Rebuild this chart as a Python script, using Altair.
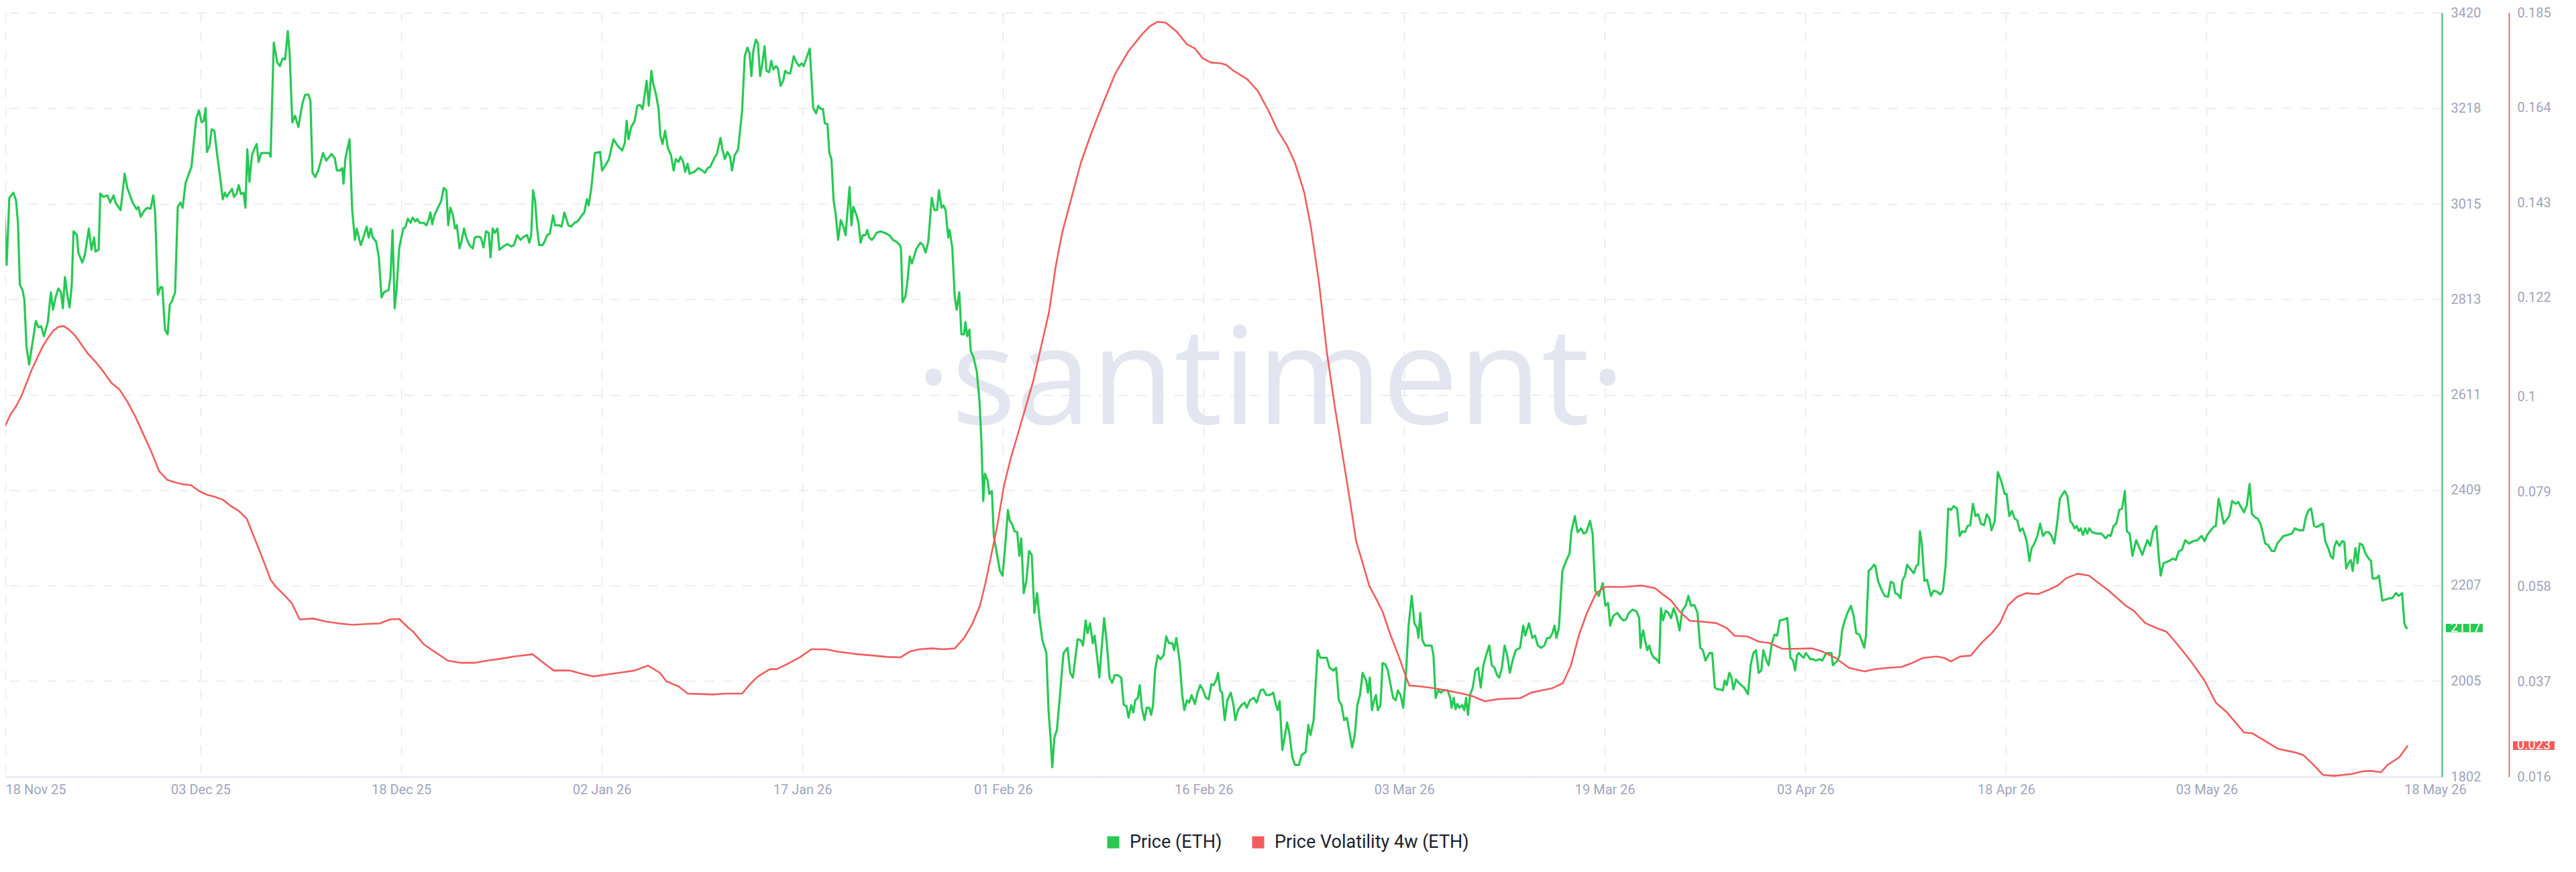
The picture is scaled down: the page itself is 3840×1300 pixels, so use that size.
import json
import altair as alt
import pandas as pd

FONT = "Roboto"

# ---------------- data ----------------
# x values are days after 2025-11-18 12:00 UTC
START = "2025-11-18T12:00:00Z"

price_points = [
    (0.00,3081),(0.20,3079),(0.50,2886),(0.70,3028),(1.00,3039),(1.20,3023),(1.35,2975),(1.49,2844),(1.69,2833),(1.83,2812),
    (1.99,2712),(2.19,2675),(2.39,2712),(2.69,2767),(2.89,2754),(3.09,2756),(3.29,2735),(3.59,2765),(3.82,2828),(3.98,2791),
    (4.18,2818),(4.38,2836),(4.58,2828),(4.72,2794),(4.88,2860),(5.08,2818),(5.22,2796),(5.38,2839),(5.52,2957),(5.78,2949),
    (5.88,2912),(6.18,2891),(6.37,2907),(6.67,2963),(6.87,2918),(7.07,2944),(7.17,2914),(7.41,2918),(7.53,3037),(7.77,3030),
    (8.07,3033),(8.27,3018),(8.53,3033),(8.67,3018),(9.06,3002),(9.36,3079),(9.56,3049),(9.96,3018),(10.26,3004),(10.40,3009),
    (10.56,2988),(10.86,3002),(11.06,3007),(11.31,3005),(11.51,3033),(11.65,2997),(11.85,2823),(12.05,2839),(12.19,2839),(12.39,2749),
    (12.59,2739),(12.75,2802),(12.91,2809),(13.15,2828),(13.35,3009),(13.55,3018),(13.71,3007),(13.94,3060),(14.14,3076),(14.38,3094),
    (14.74,3197),(14.94,3213),(15.14,3188),(15.30,3191),(15.44,3218),(15.54,3125),(15.74,3139),(15.90,3173),(16.10,3170),(16.29,3123),
    (16.49,3081),(16.73,3025),(16.89,3039),(17.03,3030),(17.23,3039),(17.43,3047),(17.57,3030),(17.77,3037),(17.93,3055),(18.09,3036),
    (18.29,3039),(18.43,3007),(18.57,3131),(18.73,3062),(18.92,3118),(19.12,3133),(19.28,3142),(19.42,3104),(19.62,3123),(19.92,3123),
    (20.22,3123),(20.32,3115),(20.56,3357),(20.82,3315),(21.02,3307),(21.22,3323),(21.41,3321),(21.61,3381),(21.75,3334),(21.95,3188),
    (22.15,3202),(22.41,3178),(22.71,3228),(22.91,3246),(23.15,3247),(23.31,3234),(23.47,3081),(23.67,3072),(23.90,3086),(24.26,3123),
    (24.50,3107),(24.90,3121),(25.14,3112),(25.30,3086),(25.54,3086),(25.70,3091),(25.80,3058),(25.94,3112),(26.25,3152),(26.45,3002),
    (26.65,2939),(26.79,2963),(27.09,2928),(27.29,2944),(27.53,2967),(27.69,2944),(27.85,2963),(27.99,2944),(28.25,2935),(28.45,2902),
    (28.65,2817),(28.84,2828),(29.18,2833),(29.32,2860),(29.48,2960),(29.64,2794),(29.78,2833),(29.98,2922),(30.28,2963),
    (30.43,2965),(30.63,2984),(30.83,2975),(30.99,2986),(31.19,2978),(31.33,2983),(31.52,2975),(31.82,2975),(32.02,2970),(32.18,2981),
    (32.32,2997),(32.46,2972),(32.62,2991),(32.92,3009),(33.12,3020),(33.32,3049),(33.52,3044),(33.66,2970),(33.82,3007),(34.02,2991),
    (34.17,2963),(34.31,2970),(34.51,2921),(34.65,2935),(34.85,2963),(35.01,2944),(35.25,2928),(35.51,2921),(35.65,2944),(35.91,2946),
    (36.11,2944),(36.31,2923),(36.50,2957),(36.70,2954),(36.84,2902),(37.00,2963),(37.16,2954),(37.36,2963),(37.50,2918),(37.80,2925),
    (38.10,2930),(38.40,2925),(38.60,2928),(38.84,2949),(39.09,2939),(39.35,2946),(39.59,2949),(39.75,2933),(39.89,2949),(40.03,3044),
    (40.19,3020),(40.33,2965),(40.49,2928),(40.75,2928),(40.89,2935),(41.09,2949),(41.29,2952),(41.54,2991),(41.68,2970),(41.98,2970),
    (42.18,2967),(42.38,2997),(42.68,2970),(42.88,2967),(43.14,2975),(43.38,2978),(43.62,2988),(43.88,2997),(44.07,3025),(44.21,3012),
    (44.41,3049),(44.67,3123),(45.07,3125),(45.21,3086),(45.47,3097),(45.73,3110),(46.07,3152),(46.37,3139),(46.72,3128),(46.92,3144),
    (47.06,3191),(47.20,3152),(47.40,3178),(47.66,3191),(47.86,3223),(48.06,3225),(48.26,3216),(48.56,3276),(48.72,3223),(48.92,3297),
    (49.05,3270),(49.25,3249),(49.45,3218),(49.59,3160),(49.75,3142),(49.95,3170),(50.15,3134),(50.39,3118),(50.59,3086),(50.75,3110),
    (50.95,3104),(51.11,3115),(51.31,3104),(51.45,3083),(51.64,3100),(51.78,3079),(52.14,3083),(52.44,3091),(52.74,3086),(52.94,3081),
    (53.14,3091),(53.34,3094),(53.64,3112),(53.84,3121),(54.10,3155),(54.23,3134),(54.43,3110),(54.63,3125),(54.83,3115),(54.97,3086),
    (55.17,3118),(55.43,3131),(55.73,3212),(55.93,3328),(56.13,3346),(56.29,3334),(56.43,3286),(56.57,3339),(56.76,3363),(56.92,3355),
    (57.08,3286),(57.22,3307),(57.42,3349),(57.56,3297),(57.76,3294),(57.92,3318),(58.08,3300),(58.28,3307),(58.42,3302),(58.62,3265),
    (58.82,3276),(58.96,3297),(59.15,3292),(59.35,3292),(59.61,3328),(59.81,3315),(60.01,3307),(60.21,3313),(60.35,3307),(60.81,3344),
    (61.07,3218),
    (61.29,3207),(61.45,3223),(61.65,3216),(61.80,3216),(61.94,3186),(62.14,3184),(62.28,3123),(62.44,3110),(62.60,3023),(62.74,2997),
    (62.94,2939),(63.14,2981),(63.34,2967),(63.50,2949),(63.64,2997),(63.80,3051),(63.94,2970),(64.08,3009),(64.33,2991),(64.47,2975),
    (64.63,2933),(64.79,2949),(64.99,2949),(65.13,2960),(65.27,2944),(65.47,2939),(65.63,2944),(65.83,2954),(66.13,2957),(66.43,2954),
    (66.78,2949),(67.06,2939),(67.32,2935),(67.58,2928),(67.66,2921),(67.78,2807),(67.98,2818),(68.12,2844),(68.32,2904),(68.48,2889),
    (68.62,2902),(68.82,2920),(69.12,2933),(69.31,2928),(69.51,2912),(69.71,2935),(69.97,3028),(70.17,3002),(70.37,3002),(70.51,3044),
    (70.71,3007),(70.85,3012),(71.01,3002),(71.21,2944),(71.31,2960),(71.51,2923),(71.70,2818),(71.84,2791),(72.04,2828),(72.20,2739),
    (72.40,2739),(72.50,2765),(72.64,2735),(72.80,2749),(72.90,2704),(73.10,2691),(73.36,2659),(73.56,2596),(73.70,2512),(73.84,2386),
    (73.96,2444),(74.16,2430),(74.30,2401),(74.49,2407),(74.63,2312),(74.89,2270),(75.09,2238),(75.29,2228),(75.49,2291),(75.69,2367),
    (75.83,2344),(75.99,2338),(76.19,2322),(76.39,2320),(76.55,2270),(76.69,2307),(76.88,2191),(77.08,2217),(77.28,2280),(77.48,2272),
    (77.68,2149),(77.88,2191),(78.08,2133),(78.28,2091),(78.58,2064),(78.74,1943),(78.88,1890),(79.02,1822),(79.18,1885),(79.37,1901),
    (79.57,1964),(79.77,2033),(79.87,2064),(80.17,2075),(80.37,2022),(80.57,2012),(80.73,2048),(80.93,2093),(81.17,2091),(81.33,2080),
    (81.53,2133),(81.67,2106),(81.86,2127),(82.06,2085),(82.20,2101),(82.40,2054),(82.56,2012),(82.72,2070),(82.92,2138),(83.12,2085),
    (83.32,2012),(83.52,2001),(83.72,2017),(83.96,2017),(84.20,2012),(84.39,1954),(84.59,1952),(84.75,1927),(84.95,1954),(85.11,1938),
    (85.25,1964),(85.45,1969),(85.59,1996),(85.75,1948),(85.95,1922),(86.11,1948),(86.31,1948),(86.45,1933),(86.59,1954),(86.74,2027),
    (86.94,2059),(87.14,2051),(87.38,2059),(87.58,2099),(87.78,2085),(88.04,2085),(88.18,2070),(88.34,2096),(88.58,2048),(88.78,1975),
    (88.94,1943),(89.14,1964),(89.30,1959),(89.49,1975),(89.73,1956),(89.93,1980),(90.13,1996),(90.33,1987),(90.57,1969),(90.77,1966),
    (90.97,1998),(91.13,1996),(91.33,2006),(91.47,2022),(91.63,1985),
    (91.78,1980),(91.97,1922),(92.17,1964),(92.43,1980),(92.63,1954),(92.77,1922),(92.97,1943),(93.23,1954),(93.47,1959),(93.63,1948),
    (93.87,1964),(94.17,1969),(94.37,1959),(94.66,1985),(94.86,1987),(95.10,1975),(95.36,1975),(95.62,1980),(95.82,1954),(95.96,1943),
    (96.10,1962),(96.30,1859),(96.50,1890),(96.66,1917),(96.82,1896),(97.05,1843),(97.25,1827),(97.55,1827),(97.75,1848),(98.05,1854),
    (98.25,1912),(98.41,1890),(98.65,1922),(98.95,2070),(99.15,2054),(99.45,2054),(99.64,2054),(99.84,2033),(100.14,2027),(100.34,2033),
    (100.54,1964),(100.74,1954),(100.94,1922),(101.14,1927),(101.34,1896),(101.54,1864),(101.74,1890),(101.93,1954),(102.13,1975),(102.33,2022),
    (102.59,2006),(102.73,1980),(102.87,2012),(103.03,1943),(103.19,1964),(103.33,1975),(103.47,1943),(103.67,1954),(103.83,2043),(104.03,2040),
    (104.23,2027),(104.43,1996),(104.62,1969),(104.82,1964),(104.98,1985),(105.18,1975),(105.38,1948),(105.58,2017),(105.78,2122),(106.02,2185),
    (106.22,2127),(106.42,2117),(106.52,2096),(106.66,2149),(106.82,2091),(107.01,2080),(107.25,2080),(107.51,2080),(107.65,2059),(107.81,1969),
    (108.01,1985),(108.21,1980),(108.41,1985),(108.71,1985),(108.91,1969),(109.01,1948),(109.17,1969),(109.31,1945),(109.45,1956),(109.60,1948),
    (109.80,1954),(109.96,1943),(110.10,1969),(110.24,1933),(110.40,1975),(110.60,1991),(110.80,2027),(111.00,2033),(111.20,1991),(111.40,2038),
    (111.60,2059),(111.84,2080),(112.03,2038),(112.23,2033),(112.43,2017),(112.59,2012),(112.79,2033),(112.99,2080),(113.19,2059),(113.39,2022),
    (113.59,2048),(113.83,2070),(114.15,2075),(114.39,2122),(114.54,2101),(114.82,2127),(115.08,2096),(115.28,2101),(115.48,2080),(115.74,2075),
    (115.98,2080),(116.18,2096),(116.38,2096),(116.58,2106),(116.74,2122),(116.88,2096),(117.07,2117),(117.33,2238),(117.61,2259),(117.87,2275),
    (118.01,2322),(118.27,2354),(118.47,2320),(118.73,2328),(118.93,2317),(119.13,2320),(119.41,2344),(119.60,2317),(119.80,2196),(120.06,2185),
    (120.36,2212),(120.56,2164),(120.76,2170),(120.92,2122),(121.16,2143),(121.46,2149),(121.72,2138),(121.92,2133),
    (122.11,2135),(122.30,2148),(122.60,2156),(122.90,2152),(123.10,2138),(123.20,2075),(123.30,2101),(123.40,2112),(123.54,2091),(123.70,2070),
    (123.86,2080),(124.00,2064),(124.20,2054),(124.40,2051),(124.60,2043),(124.73,2159),(124.89,2133),(125.09,2154),(125.29,2149),(125.49,2138),
    (125.69,2159),(125.89,2143),(126.13,2112),(126.33,2154),(126.59,2164),(126.79,2185),(126.99,2164),(127.24,2166),(127.48,2149),(127.68,2075),
    (127.88,2070),(128.08,2048),(128.38,2064),(128.58,2064),(128.78,1991),(128.98,1987),(129.18,1987),(129.38,1985),(129.52,2006),(129.67,1996),
    (129.87,2022),(130.03,2012),(130.17,1987),(130.37,2008),(130.57,2001),(130.77,1996),(130.97,1991),(131.27,1977),(131.47,2038),(131.67,2064),
    (131.87,2070),(132.07,2022),(132.27,2027),(132.42,2070),(132.66,2048),(132.82,2038),(133.06,2085),(133.26,2103),(133.46,2101),(133.66,2133),
    (133.96,2135),(134.22,2138),(134.46,2054),(134.66,2048),(134.81,2027),(134.95,2059),(135.09,2064),(135.25,2059),(135.45,2054),(135.61,2064),
    (135.75,2059),(135.95,2051),(136.15,2051),(136.35,2048),(136.65,2051),(136.85,2048),(137.15,2064),(137.34,2064),(137.54,2064),(137.64,2038),
    (137.80,2043),(138.00,2048),(138.14,2059),(138.34,2112),(138.54,2133),(138.74,2149),(139.00,2164),(139.20,2143),(139.40,2106),(139.64,2103),
    (140.00,2075),(140.13,2101),(140.33,2238),(140.53,2243),(140.73,2251),(140.83,2249),(141.03,2217),(141.33,2196),(141.53,2185),(141.79,2183),
    (141.99,2215),(142.19,2212),(142.33,2191),(142.52,2188),(142.72,2180),(142.86,2217),(143.06,2228),(143.22,2251),(143.52,2240),(143.72,2233),
    (143.92,2249),(144.06,2251),(144.18,2322),(144.32,2296),(144.52,2217),(144.72,2219),(145.01,2185),(145.21,2196),(145.45,2194),(145.71,2188),
    (145.91,2196),(146.11,2249),(146.31,2370),(146.51,2367),(146.71,2375),(146.97,2370),(147.17,2312),(147.36,2322),(147.56,2320),(147.76,2333),
    (147.96,2335),(148.16,2380),(148.36,2354),(148.56,2358),(148.76,2338),(149.00,2335),(149.20,2358),(149.40,2349),(149.56,2324),(149.80,2344),
    (150.03,2447),(150.29,2428),(150.55,2401),(150.69,2401),(150.89,2354),(151.09,2365),(151.29,2349),(151.49,2345),(151.69,2322),(151.89,2328),
    (152.09,2312),
    (152.23,2296),(152.40,2259),(152.57,2286),(152.78,2296),(153.00,2312),(153.21,2338),(153.42,2312),(153.63,2320),(153.84,2320),(154.06,2312),
    (154.27,2296),(154.48,2338),(154.69,2391),(154.90,2401),(155.05,2407),(155.26,2396),(155.48,2343),(155.63,2338),(155.80,2328),(155.96,2333),
    (156.11,2322),(156.26,2328),(156.43,2314),(156.60,2328),(156.75,2317),(156.90,2328),(157.11,2320),(157.45,2317),(157.81,2317),(158.13,2307),
    (158.34,2314),(158.51,2312),(158.72,2333),(158.93,2338),(159.15,2367),(159.36,2370),(159.57,2407),(159.72,2322),(159.93,2317),(160.14,2270),
    (160.42,2303),(160.63,2289),(160.88,2272),(161.05,2286),(161.27,2303),(161.48,2291),(161.69,2322),(161.94,2333),(162.11,2270),(162.26,2228),
    (162.47,2254),(162.90,2259),(163.17,2264),(163.39,2261),(163.64,2280),(163.85,2282),(164.11,2303),(164.38,2296),(164.70,2301),(165.02,2303),
    (165.34,2312),(165.55,2301),(165.76,2314),(165.97,2322),(166.23,2331),(166.40,2333),(166.61,2391),(166.82,2364),(166.99,2338),(167.20,2346),
    (167.41,2354),(167.63,2386),(167.88,2380),(168.09,2384),(168.26,2375),(168.52,2362),(168.73,2377),(168.94,2422),(169.11,2359),(169.32,2352),
    (169.54,2349),(169.75,2338),(169.90,2322),(170.11,2296),(170.32,2293),(170.60,2280),(170.81,2280),(171.02,2296),(171.23,2303),(171.49,2312),
    (171.80,2314),(172.12,2317),(172.33,2328),(172.65,2324),(172.97,2324),(173.18,2354),(173.39,2367),(173.56,2370),(173.78,2333),(173.99,2331),
    (174.24,2335),(174.45,2338),(174.62,2301),(174.84,2286),(175.05,2268),(175.20,2264),(175.30,2289),(175.47,2301),(175.69,2291),(175.90,2301),
    (176.05,2299),(176.19,2243),(176.36,2254),(176.53,2261),(176.68,2238),(176.89,2286),(177.04,2254),(177.21,2296),(177.42,2293),(177.64,2275),
    (177.89,2264),(178.06,2259),(178.17,2222),(178.44,2222),(178.65,2228),(178.91,2175),(179.12,2177),(179.44,2180),(179.65,2180),(179.93,2191),
    (180.14,2185),(180.39,2191),(180.56,2127),(180.71,2117),(180.82,2117),
]

vol_points = [
    (0.00,0.0924),(0.40,0.0937),(0.80,0.0962),(1.20,0.0979),(1.59,0.1001),(1.99,0.1031),(2.39,0.1061),(2.79,0.1086),(3.19,0.1111),(3.59,0.1130),
    (3.98,0.1146),(4.38,0.1155),(4.78,0.1157),(5.18,0.1149),(5.58,0.1138),(5.98,0.1122),(6.57,0.1097),(7.17,0.1078),(7.77,0.1056),(8.37,0.1031),
    (8.96,0.1017),(9.56,0.0990),(10.16,0.0957),(10.76,0.0918),(11.35,0.0880),(11.95,0.0836),(12.55,0.0817),(13.15,0.0811),(13.75,0.0807),(14.34,0.0805),
    (14.94,0.0792),(15.54,0.0784),(16.14,0.0779),(16.73,0.0773),(17.33,0.0759),(17.93,0.0748),(18.53,0.0731),(19.12,0.0687),(19.72,0.0643),(20.32,0.0596),
    (20.72,0.0580),(21.31,0.0563),(21.91,0.0544),(22.51,0.0508),(23.51,0.0510),(24.50,0.0503),(25.50,0.0499),(26.49,0.0496),(27.49,0.0498),(28.49,0.0499),
    (29.28,0.0508),(29.98,0.0509),(30.68,0.0489),
    (31.03,0.0481),(31.82,0.0453),(32.62,0.0437),(33.62,0.0417),(34.61,0.0412),(35.61,0.0412),(36.60,0.0417),(37.60,0.0421),(38.60,0.0426),(39.99,0.0431),
    (40.59,0.0417),(41.58,0.0395),(42.78,0.0395),(43.78,0.0387),(44.57,0.0382),(45.77,0.0387),(46.76,0.0391),(47.66,0.0395),(48.66,0.0406),(49.55,0.0390),
    (50.05,0.0371),(50.95,0.0360),(51.64,0.0344),(52.54,0.0343),(53.54,0.0342),(54.53,0.0344),(55.73,0.0344),(56.33,0.0365),(56.92,0.0382),(57.82,0.0398),
    (58.32,0.0398),(59.11,0.0409),(60.11,0.0425),(60.91,0.0442),
    (62.04,0.0442),(62.84,0.0437),(64.43,0.0431),(65.63,0.0428),(66.63,0.0425),(67.62,0.0424),(68.32,0.0437),(69.02,0.0442),(70.01,0.0444),(70.81,0.0442),
    (71.70,0.0444),(72.40,0.0467),(73.00,0.0497),(73.60,0.0539),(74.00,0.0588),(74.39,0.0643),(74.89,0.0715),(75.39,0.0803),(75.89,0.0863),(76.39,0.0913),
    (76.98,0.0973),(77.58,0.1034),(78.18,0.1111),(78.78,0.1188),(79.27,0.1287),(79.77,0.1364),(80.37,0.1430),(81.17,0.1518),(81.96,0.1584),(82.76,0.1644),
    (83.76,0.1716),(84.75,0.1765),(85.75,0.1802),(86.35,0.1820),(86.94,0.1830),(87.54,0.1828),(88.34,0.1809),(89.14,0.1780),(89.73,0.1771),(90.33,0.1749),
    (90.93,0.1740),(91.69,0.1738),
    (92.07,0.1735),(92.67,0.1721),(93.67,0.1703),(94.46,0.1677),(95.26,0.1633),(95.96,0.1589),(96.66,0.1556),(97.25,0.1518),(97.95,0.1452),(98.45,0.1375),
    (99.05,0.1254),(99.64,0.1100),(100.24,0.0979),(100.84,0.0869),(101.44,0.0759),(101.84,0.0681),(102.23,0.0643),(102.83,0.0582),(103.43,0.0549),(103.83,0.0525),
    (104.43,0.0473),(105.02,0.0428),(105.82,0.0362),(106.62,0.0360),(107.41,0.0357),(108.61,0.0351),(109.80,0.0344),(110.60,0.0338),(111.50,0.0327),(112.59,0.0332),
    (114.19,0.0334),(114.98,0.0346),(115.78,0.0351),(116.58,0.0356),(117.37,0.0367),(117.97,0.0406),(118.57,0.0473),(119.17,0.0522),(119.86,0.0566),(120.56,0.0580),
    (121.92,0.0580),
    (123.30,0.0583),(124.30,0.0577),(124.89,0.0563),(125.49,0.0550),(126.09,0.0527),(126.89,0.0505),(127.88,0.0503),(128.88,0.0500),(129.67,0.0489),(130.27,0.0472),
    (131.27,0.0470),(132.07,0.0459),(132.86,0.0456),(133.86,0.0443),(134.85,0.0443),(136.05,0.0444),(136.85,0.0437),(137.84,0.0423),(138.84,0.0401),(140.03,0.0393),
    (140.83,0.0398),(141.83,0.0401),(142.82,0.0403),(143.62,0.0412),(144.42,0.0423),(145.41,0.0426),(146.01,0.0423),(146.51,0.0415),(147.20,0.0426),(148.00,0.0428),
    (148.80,0.0456),(149.59,0.0478),(150.19,0.0500),(150.79,0.0539),(151.49,0.0558),(152.14,0.0566),
    (153.04,0.0564),(153.89,0.0574),(154.52,0.0583),(155.16,0.0599),(156.01,0.0609),(156.86,0.0605),(157.49,0.0591),(158.34,0.0572),(159.61,0.0539),(160.25,0.0527),
    (161.10,0.0500),(161.94,0.0489),(162.69,0.0481),(163.43,0.0456),(164.49,0.0417),(165.55,0.0373),(166.40,0.0324),(167.25,0.0302),(167.88,0.0280),(168.52,0.0258),
    (169.15,0.0256),(170.00,0.0241),(171.06,0.0222),(172.33,0.0214),(172.97,0.0208),(173.82,0.0184),(174.45,0.0164),(175.30,0.0162),(176.58,0.0166),(177.42,0.0172),
    (178.06,0.0173),(178.80,0.0170),(179.33,0.0187),(180.18,0.0203),(180.82,0.0229),
]

series_names = ["Price (ETH)", "Price Volatility 4w (ETH)"]
series_colors = ["#26c953", "#f25c5c"]
axis_line_colors = ["#3fbb62", "#cf7c80"]

price_ticks = [1802, 2005, 2207, 2409, 2611, 2813, 3015, 3218, 3420]
vol_ticks = [0.016, 0.037, 0.058, 0.079, 0.1, 0.122, 0.143, 0.164, 0.185]

x_tick_dates = ["2025-11-18T21:40:00Z", "2025-12-03T13:34:00Z", "2025-12-18T15:07:00Z",
                "2026-01-02T16:41:00Z", "2026-01-17T18:14:00Z", "2026-02-01T19:48:00Z",
                "2026-02-16T21:22:00Z", "2026-03-03T22:55:00Z", "2026-03-19T00:29:00Z",
                "2026-04-03T02:02:00Z", "2026-04-18T03:36:00Z", "2026-05-03T05:10:00Z",
                "2026-05-20T08:53:00Z"]
x_tick_labels = ["18 Nov 25", "03 Dec 25", "18 Dec 25", "02 Jan 26", "17 Jan 26", "01 Feb 26",
                 "16 Feb 26", "03 Mar 26", "19 Mar 26", "03 Apr 26", "18 Apr 26", "03 May 26",
                 "18 May 26"]
x_domain_dates = ["2025-11-18T21:40:00Z", "2026-05-20T21:00:00Z"]

watermark = ["·santiment·"]

# ---------------- build ----------------
W, H = 3632, 1139
DAY_MS = 86400000


def ms(s):
    return int(pd.Timestamp(s).value // 10**6)


start_ms = ms(START)
tick_ms = [ms(s) for s in x_tick_dates]
domain_ms = [ms(s) for s in x_domain_dates]

price_df = pd.DataFrame(price_points, columns=["day", "value"])
price_df["t"] = start_ms + (price_df["day"] * DAY_MS).round().astype("int64")
price_df["series"] = series_names[0]

vol_df = pd.DataFrame(vol_points, columns=["day", "value"])
vol_df["t"] = start_ms + (vol_df["day"] * DAY_MS).round().astype("int64")
vol_df["series"] = series_names[1]

price_last = pd.DataFrame({"value": [price_points[-1][1]], "label": [f"{price_points[-1][1]:.0f}"]})
vol_last = pd.DataFrame({"value": [vol_points[-1][1]], "label": [f"{vol_points[-1][1]:.3f}"]})

GRID = "#e6e8ee"
LABEL = "#9fa4bc"

label_expr = f"{json.dumps(x_tick_labels)}[indexof({json.dumps(tick_ms)}, time(datum.value))]"

x_axis = alt.Axis(
    values=tick_ms, labelExpr=label_expr, title=None,
    labelAlign={"condition": {"test": f"time(datum.value) <= {tick_ms[0]}", "value": "left"}, "value": "center"},
    labelFlush=False, labelOverlap=False, labelBound=False,
    grid=True, gridDash=[14, 14], gridColor=GRID, gridWidth=1.5,
    gridOpacity={"condition": {"test": f"time(datum.value) >= {tick_ms[-1]}", "value": 0}, "value": 1},
    domain=True, domainColor="#e3e5ea", domainWidth=2, ticks=False,
    labelPadding=9, labelFontSize=20, labelColor=LABEL, labelFont=FONT,
)
x_enc = alt.X("t:T", scale=alt.Scale(type="utc", domain=domain_ms), axis=x_axis)

price_scale = alt.Scale(domain=[price_ticks[0], price_ticks[-1]], nice=False, zero=False)
vol_scale = alt.Scale(domain=[vol_ticks[0], vol_ticks[-1]], nice=False, zero=False)

price_axis = alt.Axis(
    orient="right", values=price_ticks, format="d", title=None,
    grid=True, gridDash=[14, 14], gridColor=GRID, gridWidth=1.5,
    domain=True, domainColor=axis_line_colors[0], domainWidth=2, ticks=False,
    labelPadding=13, labelFontSize=20, labelColor=LABEL, labelFont=FONT, labelOverlap=False,
)
vol_axis = alt.Axis(
    orient="right", offset=100, values=vol_ticks, format=".3~f", title=None, grid=False,
    domain=True, domainColor=axis_line_colors[1], domainWidth=2, ticks=False,
    labelPadding=12, labelFontSize=20, labelColor=LABEL, labelFont=FONT, labelOverlap=False,
)

color_scale = alt.Scale(domain=series_names, range=series_colors)
legend = alt.Legend(
    orient="none", legendX=1638, legendY=1223, direction="horizontal", title=None,
    symbolType="square", symbolSize=324, symbolStrokeWidth=0, symbolOpacity=1,
    labelFontSize=27, labelFont=FONT, labelColor="#1b1f2e", labelLimit=800,
    labelOffset=11, columnPadding=40,
)

wm = alt.Chart(pd.DataFrame({"txt": watermark})).mark_text(
    font="Open Sans", fontSize=202, color="#e3e6f0", align="center", baseline="alphabetic"
).encode(x=alt.value(1886), y=alt.value(613), text="txt:N")

# legend-only layer: filled squares (invisible marks, visible legend symbols)
legend_layer = alt.Chart(pd.DataFrame({"series": series_names})).mark_square(opacity=0, filled=True).encode(
    x=alt.value(0), y=alt.value(0), color=alt.Color("series:N", scale=color_scale, legend=legend))

price_y = alt.Y("value:Q", scale=price_scale, axis=price_axis)
vol_y = alt.Y("value:Q", scale=vol_scale, axis=vol_axis)

price_line = alt.Chart(price_df).mark_line(strokeWidth=3.2, clip=True, strokeJoin="round").encode(
    x=x_enc, y=price_y, color=alt.Color("series:N", scale=color_scale, legend=None))
vol_line = alt.Chart(vol_df).mark_line(strokeWidth=2.6, clip=True, strokeJoin="round").encode(
    x=x_enc, y=vol_y, color=alt.Color("series:N", scale=color_scale, legend=None))

G_BADGE = "M-1,-0.23L1,-0.23L1,0.23L-1,0.23Z"
R_BADGE = "M-1,-0.21L1,-0.21L1,0.21L-1,0.21Z"

price_badge = alt.Chart(price_last).mark_point(
    shape=G_BADGE, size=55 ** 2, filled=True, opacity=1, color=series_colors[0], strokeWidth=0
).encode(x=alt.value(W + 33.5), y=price_y)
price_badge_txt = alt.Chart(price_last).mark_text(
    align="left", baseline="middle", color="white", fontSize=20, font=FONT
).encode(x=alt.value(W + 13), y=price_y, text="label:N")

vol_badge = alt.Chart(vol_last).mark_point(
    shape=R_BADGE, size=62 ** 2, filled=True, opacity=1, color=series_colors[1], strokeWidth=0
).encode(x=alt.value(W + 137), y=vol_y)
vol_badge_txt = alt.Chart(vol_last).mark_text(
    align="left", baseline="middle", color="white", fontSize=20, font=FONT
).encode(x=alt.value(W + 112), y=vol_y, text="label:N")

price_group = alt.layer(price_line, price_badge, price_badge_txt)
vol_group = alt.layer(vol_line, vol_badge, vol_badge_txt)

chart = alt.layer(wm, legend_layer, price_group, vol_group).resolve_scale(y="independent").properties(
    width=W, height=H,
    padding={"left": 0, "top": 11, "right": 192, "bottom": 120},
    autosize=alt.AutoSizeParams(type="none"),
).configure_view(stroke=None)

chart.save("out.html", embed_options={"renderer": "svg", "actions": False})
